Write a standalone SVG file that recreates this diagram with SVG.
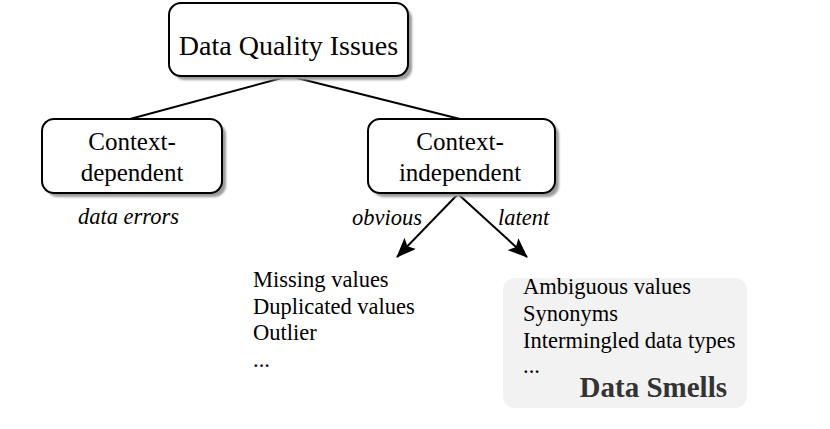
<svg xmlns="http://www.w3.org/2000/svg" width="830" height="429" viewBox="0 0 830 429">
<defs>
<filter id="sh" x="-10%" y="-10%" width="130%" height="140%"><feGaussianBlur stdDeviation="1.2"/></filter>
<marker id="ah" viewBox="0 0 10 10" refX="9" refY="5" markerWidth="10" markerHeight="10" markerUnits="userSpaceOnUse" orient="auto"><path d="M0,0 L10,5 L0,10 L2,5 z" fill="#000"/></marker>
<marker id="ah2" viewBox="0 0 20 16" refX="19" refY="8" markerWidth="20" markerHeight="16" markerUnits="userSpaceOnUse" orient="auto"><path d="M0,0 L20,8 L0,16 L4,8 z" fill="#000"/></marker>
</defs>
<style>
.box{fill:#fff;stroke:#000;stroke-width:2}
.shadow{fill:#9a9a9a;filter:url(#sh)}
.t{font-family:"Liberation Serif","Times New Roman",serif;fill:#000}
.i{font-family:"Liberation Serif","Times New Roman",serif;font-style:italic;font-size:22.5px;fill:#000}
.l{font-family:"Liberation Serif","Times New Roman",serif;font-size:22.5px;fill:#000}
.c{stroke:#000;stroke-width:2;fill:none}
</style>
<g id="connectors">
<line class="c" x1="289" y1="76" x2="130" y2="119"/>
<line class="c" x1="289" y1="76" x2="460" y2="119"/>
<line class="c" x1="458" y1="194" x2="397" y2="257" marker-end="url(#ah2)"/>
<line class="c" x1="458" y1="194" x2="527" y2="257" marker-end="url(#ah2)"/>
</g>
<g id="node-root">
<rect class="shadow" x="173" y="7" width="239" height="73" rx="12"/>
<rect class="box" x="169" y="3" width="239" height="73" rx="12"/>
<text class="t" x="288.5" y="55" font-size="28" text-anchor="middle">Data Quality Issues</text>
</g>
<g id="node-dependent">
<rect class="shadow" x="46" y="123" width="180" height="74" rx="12"/>
<rect class="box" x="42" y="119" width="180" height="74" rx="12"/>
<text class="t" x="132" y="150" font-size="25" text-anchor="middle">Context-</text>
<text class="t" x="132" y="181" font-size="25" text-anchor="middle">dependent</text>
</g>
<g id="node-independent">
<rect class="shadow" x="372" y="123" width="187" height="74" rx="12"/>
<rect class="box" x="368" y="119" width="187" height="74" rx="12"/>
<text class="t" x="460" y="150" font-size="25" text-anchor="middle">Context-</text>
<text class="t" x="460" y="181" font-size="25" text-anchor="middle">independent</text>
</g>
<g id="label-data-errors">
<text class="i" x="128.5" y="224" text-anchor="middle">data errors</text>
</g>
<g id="label-obvious">
<text class="i" x="422" y="225" text-anchor="end">obvious</text>
</g>
<g id="label-latent">
<text class="i" x="498" y="225">latent</text>
</g>
<g id="node-obvious-list">
<text class="l" x="253" y="287">Missing values</text>
<text class="l" x="253" y="313.5">Duplicated values</text>
<text class="l" x="253" y="340">Outlier</text>
<text class="l" x="253" y="366.5">...</text>
</g>
<g id="node-data-smells">
<rect x="503" y="278" width="244" height="130" rx="12" fill="#f2f2f2"/>
<text class="l" x="523" y="294">Ambiguous values</text>
<text class="l" x="523" y="321">Synonyms</text>
<text class="l" x="523" y="348">Intermingled data types</text>
<text class="l" x="523" y="373">...</text>
<text class="t" x="727" y="397" font-size="29" font-weight="bold" fill="#333" text-anchor="end" style="fill:#333">Data Smells</text>
</g>
</svg>
